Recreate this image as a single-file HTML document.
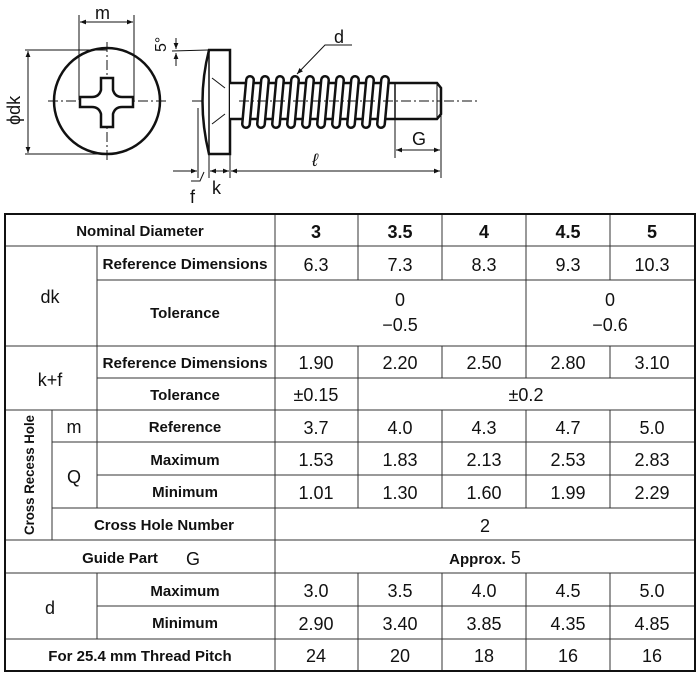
<!DOCTYPE html>
<html><head><meta charset="utf-8"><style>
html,body{margin:0;padding:0;background:#fff}
svg{display:block}
text{font-family:"Liberation Sans",sans-serif;fill:#111}
.l{font-size:15px;font-weight:bold}
.n{font-size:18px;font-weight:normal}
.b{font-size:18px;font-weight:bold}
</style></head><body>
<svg width="700" height="676" viewBox="0 0 700 676" xmlns="http://www.w3.org/2000/svg">
<defs><marker id="a" viewBox="0 0 10 10" refX="10" refY="5" markerWidth="8" markerHeight="6" orient="auto-start-reverse"><path d="M0,1 L10,5 L0,9z" fill="#111"/></marker></defs>
<!-- front view -->
<g stroke="#111" fill="none">
<circle cx="107" cy="101" r="53" stroke-width="2.5"/>
<line x1="48" y1="101" x2="166" y2="101" stroke-width="1" stroke-dasharray="10,3,2,3"/>
<line x1="107" y1="42" x2="107" y2="162" stroke-width="1" stroke-dasharray="10,3,2,3"/>
<path d="M101,78 L113,78 L113,90 Q115,97 122,97 L133,97 L133,107 L122,107 Q115,107 113,114 L113,127 L101,127 L101,114 Q99,107 92,107 L80,107 L80,97 L92,97 Q99,97 101,90 Z" stroke-width="2.5" fill="#fff"/>
<line x1="79" y1="15" x2="79" y2="100" stroke-width="1"/>
<line x1="134" y1="15" x2="134" y2="100" stroke-width="1"/>
<line x1="80" y1="22" x2="133" y2="22" stroke-width="1" marker-start="url(#a)" marker-end="url(#a)"/>
<line x1="25" y1="50" x2="107" y2="50" stroke-width="1"/>
<line x1="25" y1="154" x2="107" y2="154" stroke-width="1"/>
<line x1="28" y1="51" x2="28" y2="153" stroke-width="1" marker-start="url(#a)" marker-end="url(#a)"/>
</g>
<text x="95" y="19" class="n">m</text>
<text transform="translate(20,125) rotate(-90)" class="n">ϕdk</text>
<!-- side view -->
<g stroke="#111" fill="none">
<line x1="192" y1="101" x2="480" y2="101" stroke-width="1" stroke-dasharray="10,3,2,3"/>
<path d="M209,50 L230,50 L230,154 L209,154 Q196,101 209,50 Z" stroke-width="2.5" fill="#fff"/>
<line x1="209" y1="50" x2="209" y2="154" stroke-width="1.5"/>
<line x1="212" y1="78" x2="225" y2="88" stroke-width="1"/>
<line x1="212" y1="124" x2="225" y2="114" stroke-width="1"/>
<path d="M230,83 L437,83 L441,88 L441,114 L437,119 L230,119" stroke-width="2.5" fill="#fff"/>
<line x1="437" y1="83" x2="437" y2="119" stroke-width="1"/>
<line x1="395" y1="83" x2="395" y2="119" stroke-width="1.5"/>
<g stroke-linecap="round">
<g stroke="#111" stroke-width="10">
<line x1="246" y1="124" x2="250" y2="80"/><line x1="261" y1="124" x2="265" y2="80"/><line x1="276" y1="124" x2="280" y2="80"/><line x1="291" y1="124" x2="295" y2="80"/><line x1="306" y1="124" x2="310" y2="80"/><line x1="321" y1="124" x2="325" y2="80"/><line x1="336" y1="124" x2="340" y2="80"/><line x1="351" y1="124" x2="355" y2="80"/><line x1="366" y1="124" x2="370" y2="80"/><line x1="381" y1="124" x2="385" y2="80"/>
</g>
<g stroke="#fff" stroke-width="5">
<line x1="246" y1="124" x2="250" y2="80"/><line x1="261" y1="124" x2="265" y2="80"/><line x1="276" y1="124" x2="280" y2="80"/><line x1="291" y1="124" x2="295" y2="80"/><line x1="306" y1="124" x2="310" y2="80"/><line x1="321" y1="124" x2="325" y2="80"/><line x1="336" y1="124" x2="340" y2="80"/><line x1="351" y1="124" x2="355" y2="80"/><line x1="366" y1="124" x2="370" y2="80"/><line x1="381" y1="124" x2="385" y2="80"/>
</g></g>
<line x1="239" y1="101" x2="441" y2="101" stroke-width="1" stroke-dasharray="10,3,2,3"/>
<!-- dims -->
<line x1="198" y1="108" x2="198" y2="178" stroke-width="1"/>
<line x1="209" y1="155" x2="209" y2="178" stroke-width="1"/>
<line x1="230" y1="155" x2="230" y2="178" stroke-width="1"/>
<line x1="441" y1="110" x2="441" y2="178" stroke-width="1"/>
<line x1="395" y1="120" x2="395" y2="158" stroke-width="1"/>
<line x1="173" y1="171" x2="197" y2="171" stroke-width="1" marker-end="url(#a)"/>
<line x1="210" y1="171" x2="229" y2="171" stroke-width="1" marker-start="url(#a)" marker-end="url(#a)"/>
<line x1="231" y1="171" x2="440" y2="171" stroke-width="1" marker-start="url(#a)" marker-end="url(#a)"/>
<line x1="396" y1="150" x2="440" y2="150" stroke-width="1" marker-start="url(#a)" marker-end="url(#a)"/>
<path d="M191,181 L200,181 L204,172" stroke-width="1"/>
<line x1="172" y1="51" x2="208" y2="50" stroke-width="1"/>
<line x1="176" y1="38" x2="176" y2="49" stroke-width="1" marker-end="url(#a)"/>
<line x1="176" y1="66" x2="176" y2="53" stroke-width="1" marker-end="url(#a)"/>
<path d="M352,45 L325,45 L297,74" stroke-width="1" marker-end="url(#a)"/>
</g>
<text x="334" y="43" class="n">d</text>
<text transform="translate(166,52) rotate(-90)" class="n" style="font-size:16px">5°</text>
<text x="412" y="145" class="n">G</text>
<text x="312" y="166" class="n" style="font-style:italic">ℓ</text>
<text x="212" y="194" class="n">k</text>
<text x="190" y="203" class="n">f</text>
<!-- table -->
<g stroke="#333" stroke-width="1" fill="none">
<line x1="5" y1="246" x2="695" y2="246"/>
<line x1="97" y1="280" x2="695" y2="280"/>
<line x1="5" y1="346" x2="695" y2="346"/>
<line x1="97" y1="378" x2="695" y2="378"/>
<line x1="5" y1="410" x2="695" y2="410"/>
<line x1="52" y1="442" x2="695" y2="442"/>
<line x1="97" y1="475" x2="695" y2="475"/>
<line x1="52" y1="508" x2="695" y2="508"/>
<line x1="5" y1="540" x2="695" y2="540"/>
<line x1="5" y1="573" x2="695" y2="573"/>
<line x1="97" y1="606" x2="695" y2="606"/>
<line x1="5" y1="639" x2="695" y2="639"/>
<line x1="275" y1="214" x2="275" y2="671"/>
<line x1="97" y1="246" x2="97" y2="410"/>
<line x1="52" y1="410" x2="52" y2="540"/>
<line x1="97" y1="410" x2="97" y2="508"/>
<line x1="97" y1="573" x2="97" y2="639"/>
<line x1="526" y1="214" x2="526" y2="346"/>
<line x1="358" y1="214" x2="358" y2="280"/><line x1="442" y1="214" x2="442" y2="280"/><line x1="610" y1="214" x2="610" y2="280"/>
<line x1="358" y1="346" x2="358" y2="410"/>
<line x1="442" y1="346" x2="442" y2="378"/><line x1="526" y1="346" x2="526" y2="378"/><line x1="610" y1="346" x2="610" y2="378"/>
<line x1="358" y1="410" x2="358" y2="508"/><line x1="442" y1="410" x2="442" y2="508"/><line x1="526" y1="410" x2="526" y2="508"/><line x1="610" y1="410" x2="610" y2="508"/>
<line x1="358" y1="573" x2="358" y2="671"/><line x1="442" y1="573" x2="442" y2="671"/><line x1="526" y1="573" x2="526" y2="671"/><line x1="610" y1="573" x2="610" y2="671"/>
<rect x="5" y="214" width="690" height="457" stroke="#111" stroke-width="2"/>
</g>
<g text-anchor="middle">
<text x="140" y="236" class="l">Nominal Diameter</text>
<text x="185" y="269" class="l" textLength="165" lengthAdjust="spacingAndGlyphs">Reference Dimensions</text>
<text x="185" y="318" class="l">Tolerance</text>
<text x="185" y="368" class="l" textLength="165" lengthAdjust="spacingAndGlyphs">Reference Dimensions</text>
<text x="185" y="400" class="l">Tolerance</text>
<text x="185" y="432" class="l">Reference</text>
<text x="185" y="465" class="l">Maximum</text>
<text x="185" y="497" class="l">Minimum</text>
<text x="164" y="530" class="l">Cross Hole Number</text>
<text x="120" y="563" class="l">Guide Part</text>
<text x="185" y="596" class="l">Maximum</text>
<text x="185" y="628" class="l">Minimum</text>
<text x="140" y="661" class="l">For 25.4 mm Thread Pitch</text>
<text x="50" y="303" class="n">dk</text>
<text x="50" y="386" class="n">k+f</text>
<text x="74" y="433" class="n">m</text>
<text x="74" y="483" class="n">Q</text>
<text x="193" y="565" class="n">G</text>
<text x="50" y="614" class="n">d</text>
<text transform="translate(34,475) rotate(-90)" class="l" style="font-size:14px" textLength="120" lengthAdjust="spacingAndGlyphs">Cross Recess Hole</text>
</g>
<g text-anchor="middle" class="n">
<text x="316" y="238" class="b">3</text><text x="400" y="238" class="b">3.5</text><text x="484" y="238" class="b">4</text><text x="568" y="238" class="b">4.5</text><text x="652" y="238" class="b">5</text>
<text x="316" y="271">6.3</text><text x="400" y="271">7.3</text><text x="484" y="271">8.3</text><text x="568" y="271">9.3</text><text x="652" y="271">10.3</text>
<text x="400" y="306">0</text><text x="400" y="331">−0.5</text>
<text x="610" y="306">0</text><text x="610" y="331">−0.6</text>
<text x="316" y="369">1.90</text><text x="400" y="369">2.20</text><text x="484" y="369">2.50</text><text x="568" y="369">2.80</text><text x="652" y="369">3.10</text>
<text x="316" y="401">±0.15</text><text x="526" y="401">±0.2</text>
<text x="316" y="434">3.7</text><text x="400" y="434">4.0</text><text x="484" y="434">4.3</text><text x="568" y="434">4.7</text><text x="652" y="434">5.0</text>
<text x="316" y="466">1.53</text><text x="400" y="466">1.83</text><text x="484" y="466">2.13</text><text x="568" y="466">2.53</text><text x="652" y="466">2.83</text>
<text x="316" y="499">1.01</text><text x="400" y="499">1.30</text><text x="484" y="499">1.60</text><text x="568" y="499">1.99</text><text x="652" y="499">2.29</text>
<text x="485" y="532">2</text>
<text x="485" y="564"><tspan style="font-size:15px;font-weight:bold">Approx.</tspan> 5</text>
<text x="316" y="597">3.0</text><text x="400" y="597">3.5</text><text x="484" y="597">4.0</text><text x="568" y="597">4.5</text><text x="652" y="597">5.0</text>
<text x="316" y="630">2.90</text><text x="400" y="630">3.40</text><text x="484" y="630">3.85</text><text x="568" y="630">4.35</text><text x="652" y="630">4.85</text>
<text x="316" y="662">24</text><text x="400" y="662">20</text><text x="484" y="662">18</text><text x="568" y="662">16</text><text x="652" y="662">16</text>
</g>
</svg>
</body></html>
